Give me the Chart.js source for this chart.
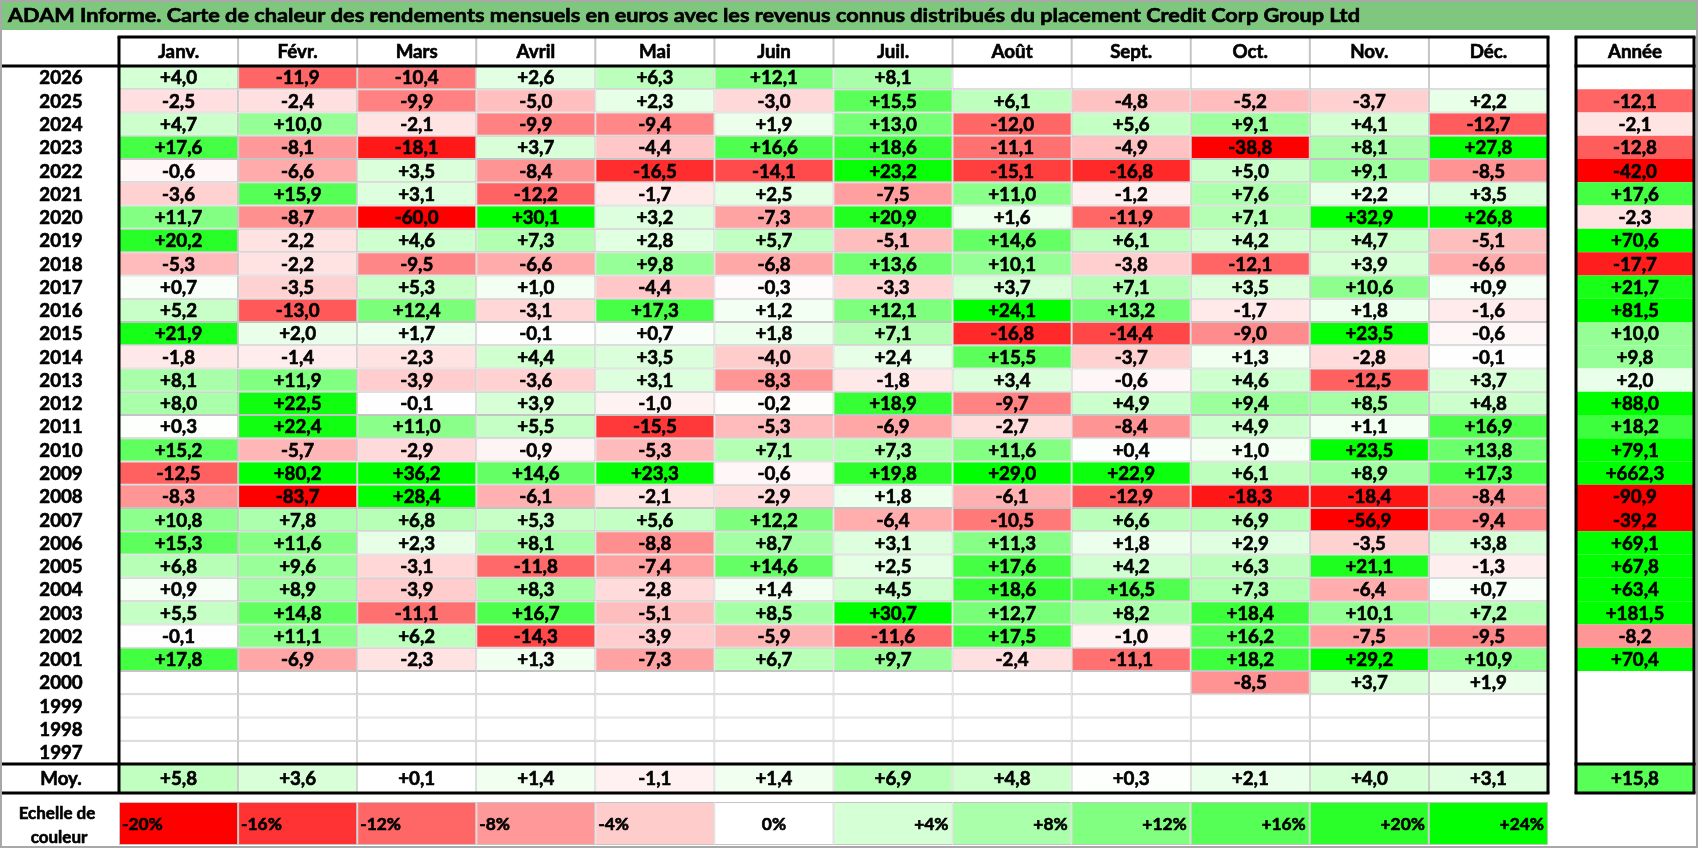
<!DOCTYPE html>
<html lang="fr">
<head>
<meta charset="utf-8">
<title>ADAM Informe - Credit Corp Group Ltd</title>
<script src="https://cdn.jsdelivr.net/npm/chart.js@4.4.1/dist/chart.umd.min.js"></script>
<style>
  html, body { margin: 0; padding: 0; background: #fff; }
  #wrap { position: relative; width: 1698px; height: 848px; overflow: hidden; }
  #wrap canvas { position: absolute; left: 0; top: 0; }
</style>
</head>
<body>
<div id="wrap">
  <canvas id="grid" width="1698" height="848"></canvas>
  <canvas id="avg" width="1698" height="848"></canvas>
  <canvas id="scale" width="1698" height="848"></canvas>
</div>
<script>
'use strict';

//***********Data***********
const title = 'ADAM Informe. Carte de chaleur des rendements mensuels en euros avec les revenus connus distribués du placement Credit Corp Group Ltd';
const months = ['Janv.', 'Févr.', 'Mars', 'Avril', 'Mai', 'Juin', 'Juil.', 'Août', 'Sept.', 'Oct.', 'Nov.', 'Déc.'];
const years = ['2026', '2025', '2024', '2023', '2022', '2021', '2020', '2019', '2018', '2017',
  '2016', '2015', '2014', '2013', '2012', '2011', '2010', '2009', '2008', '2007',
  '2006', '2005', '2004', '2003', '2002', '2001', '2000', '1999', '1998', '1997'];

const r2026 = [4.0, -11.9, -10.4, 2.6, 6.3, 12.1, 8.1, null, null, null, null, null];
const r2025 = [-2.5, -2.4, -9.9, -5.0, 2.3, -3.0, 15.5, 6.1, -4.8, -5.2, -3.7, 2.2];
const r2024 = [4.7, 10.0, -2.1, -9.9, -9.4, 1.9, 13.0, -12.0, 5.6, 9.1, 4.1, -12.7];
const r2023 = [17.6, -8.1, -18.1, 3.7, -4.4, 16.6, 18.6, -11.1, -4.9, -38.8, 8.1, 27.8];
const r2022 = [-0.6, -6.6, 3.5, -8.4, -16.5, -14.1, 23.2, -15.1, -16.8, 5.0, 9.1, -8.5];
const r2021 = [-3.6, 15.9, 3.1, -12.2, -1.7, 2.5, -7.5, 11.0, -1.2, 7.6, 2.2, 3.5];
const r2020 = [11.7, -8.7, -60.0, 30.1, 3.2, -7.3, 20.9, 1.6, -11.9, 7.1, 32.9, 26.8];
const r2019 = [20.2, -2.2, 4.6, 7.3, 2.8, 5.7, -5.1, 14.6, 6.1, 4.2, 4.7, -5.1];
const r2018 = [-5.3, -2.2, -9.5, -6.6, 9.8, -6.8, 13.6, 10.1, -3.8, -12.1, 3.9, -6.6];
const r2017 = [0.7, -3.5, 5.3, 1.0, -4.4, -0.3, -3.3, 3.7, 7.1, 3.5, 10.6, 0.9];
const r2016 = [5.2, -13.0, 12.4, -3.1, 17.3, 1.2, 12.1, 24.1, 13.2, -1.7, 1.8, -1.6];
const r2015 = [21.9, 2.0, 1.7, -0.1, 0.7, 1.8, 7.1, -16.8, -14.4, -9.0, 23.5, -0.6];
const r2014 = [-1.8, -1.4, -2.3, 4.4, 3.5, -4.0, 2.4, 15.5, -3.7, 1.3, -2.8, -0.1];
const r2013 = [8.1, 11.9, -3.9, -3.6, 3.1, -8.3, -1.8, 3.4, -0.6, 4.6, -12.5, 3.7];
const r2012 = [8.0, 22.5, -0.1, 3.9, -1.0, -0.2, 18.9, -9.7, 4.9, 9.4, 8.5, 4.8];
const r2011 = [0.3, 22.4, 11.0, 5.5, -15.5, -5.3, -6.9, -2.7, -8.4, 4.9, 1.1, 16.9];
const r2010 = [15.2, -5.7, -2.9, -0.9, -5.3, 7.1, 7.3, 11.6, 0.4, 1.0, 23.5, 13.8];
const r2009 = [-12.5, 80.2, 36.2, 14.6, 23.3, -0.6, 19.8, 29.0, 22.9, 6.1, 8.9, 17.3];
const r2008 = [-8.3, -83.7, 28.4, -6.1, -2.1, -2.9, 1.8, -6.1, -12.9, -18.3, -18.4, -8.4];
const r2007 = [10.8, 7.8, 6.8, 5.3, 5.6, 12.2, -6.4, -10.5, 6.6, 6.9, -56.9, -9.4];
const r2006 = [15.3, 11.6, 2.3, 8.1, -8.8, 8.7, 3.1, 11.3, 1.8, 2.9, -3.5, 3.8];
const r2005 = [6.8, 9.6, -3.1, -11.8, -7.4, 14.6, 2.5, 17.6, 4.2, 6.3, 21.1, -1.3];
const r2004 = [0.9, 8.9, -3.9, 8.3, -2.8, 1.4, 4.5, 18.6, 16.5, 7.3, -6.4, 0.7];
const r2003 = [5.5, 14.8, -11.1, 16.7, -5.1, 8.5, 30.7, 12.7, 8.2, 18.4, 10.1, 7.2];
const r2002 = [-0.1, 11.1, 6.2, -14.3, -3.9, -5.9, -11.6, 17.5, -1.0, 16.2, -7.5, -9.5];
const r2001 = [17.8, -6.9, -2.3, 1.3, -7.3, 6.7, 9.7, -2.4, -11.1, 18.2, 29.2, 10.9];
const r2000 = [null, null, null, null, null, null, null, null, null, -8.5, 3.7, 1.9];
const r1999 = [null, null, null, null, null, null, null, null, null, null, null, null];
const r1998 = [null, null, null, null, null, null, null, null, null, null, null, null];
const r1997 = [null, null, null, null, null, null, null, null, null, null, null, null];

const yearTotals = [null, -12.1, -2.1, -12.8, -42.0, 17.6, -2.3, 70.6, -17.7, 21.7,
  81.5, 10.0, 9.8, 2.0, 88.0, 18.2, 79.1, 662.3, -90.9, -39.2,
  69.1, 67.8, 63.4, 181.5, -8.2, 70.4, null, null, null, null];
const monthAverages = [5.8, 3.6, 0.1, 1.4, -1.1, 1.4, 6.9, 4.8, 0.3, 2.1, 4.0, 3.1];
const totalAverage = 15.8;
const scaleSteps = [-20, -16, -12, -8, -4, 0, 4, 8, 12, 16, 20, 24];
const scaleLabels = ['-20%', '-16%', '-12%', '-8%', '-4%', '0%', '+4%', '+8%', '+12%', '+16%', '+20%', '+24%'];

const rows = [r2026, r2025, r2024, r2023, r2022, r2021, r2020, r2019, r2018, r2017,
  r2016, r2015, r2014, r2013, r2012, r2011, r2010, r2009, r2008, r2007,
  r2006, r2005, r2004, r2003, r2002, r2001, r2000, r1999, r1998, r1997];

//***********Layout (pixels)***********
const W = 1698, H = 848;
const L = { left: 119, right: 1548, annL: 1576, annR: 1694, headTop: 37, gridTop: 66, gridBot: 764, moyBot: 793, scaleTop: 802, scaleBot: 845, labelX: 61 };
const colW = (L.right - L.left) / 12;
const xMax = (L.annR - L.left) / colW;
const annSpan = [(L.annL - L.left) / colW, xMax];

const FONT = 'bold 18px Lato';
const SMALL = 'bold 17px Lato';
const GRAY = '#c4c4c4';
const TEXT_SX = 1.04;

//***********Helpers***********
function heatColor(v) {
  if (v === null || v === undefined) return '#ffffff';
  if (v < 0) {
    let c = Math.round(255 * (1 - Math.min(-v / 20, 1)));
    return 'rgb(255,' + c + ',' + c + ')';
  }
  let c = Math.round(255 * (1 - Math.min(v / 24, 1)));
  return 'rgb(' + c + ',255,' + c + ')';
}

function fmt(v) {
  return (v < 0 ? '-' : '+') + Math.abs(v).toFixed(1).replace('.', ',');
}

// bold text, a touch heavier than Lato bold to get closer to the original
function text(ctx, s, x, y, align, font, sx) {
  ctx.save();
  ctx.font = font || FONT;
  ctx.fillStyle = '#000';
  ctx.strokeStyle = '#000';
  ctx.lineWidth = 0.6;
  ctx.textAlign = align || 'center';
  ctx.textBaseline = 'middle';
  ctx.translate(x, y);
  ctx.scale(sx || TEXT_SX, 1);
  ctx.fillText(s, 0, 1);
  ctx.strokeText(s, 0, 1);
  ctx.restore();
}

function line(ctx, x0, y0, x1, y1, w, color) {
  ctx.save();
  ctx.strokeStyle = color || '#000';
  ctx.lineWidth = w || 3;
  ctx.beginPath();
  ctx.moveTo(x0, y0);
  ctx.lineTo(x1, y1);
  ctx.stroke();
  ctx.restore();
}

function cellDataset(label, nRows, span, colorFn, bordered) {
  return {
    label: label,
    data: Array.from({ length: nRows }, () => span.slice()),
    backgroundColor: ctx => colorFn(ctx.dataIndex),
    borderColor: GRAY,
    borderWidth: bordered ? 1 : 0,
    borderSkipped: false,
    inflateAmount: 0,
    grouped: false,
    barPercentage: 1,
    categoryPercentage: 1
  };
}

function options(top, bottom) {
  return {
    responsive: false,
    animation: false,
    events: [],
    devicePixelRatio: 1,
    indexAxis: 'y',
    layout: { padding: { left: L.left, right: W - L.annR, top: top, bottom: H - bottom } },
    scales: {
      x: { type: 'linear', min: 0, max: xMax, display: false },
      y: { type: 'category', display: false, offset: true }
    },
    plugins: { legend: { display: false }, tooltip: { enabled: false } }
  };
}

function center(el) {
  return { x: (el.x + el.base) / 2, y: el.y, x0: Math.min(el.x, el.base), x1: Math.max(el.x, el.base) };
}

//***********Main grid***********
const gridSets = months.map((m, c) => cellDataset(m, years.length, [c, c + 1], i => heatColor(rows[i][c]), true));
gridSets.push(cellDataset('Année', years.length, annSpan, i => heatColor(yearTotals[i]), false));

const gridFrame = {
  id: 'gridFrame',
  beforeDraw(chart) {
    const ctx = chart.ctx;
    ctx.save();
    ctx.fillStyle = '#fff';
    ctx.fillRect(0, 0, W, H);
    ctx.fillStyle = '#7fc77f';
    ctx.fillRect(0, 0, W, 30);
    ctx.strokeStyle = '#a8a8a8';
    ctx.lineWidth = 2;
    ctx.strokeRect(1, 1, W - 2, H - 2);
    // title stretched to the reference width
    ctx.font = 'bold 19px Lato';
    let tw = ctx.measureText(title).width;
    ctx.restore();
    text(ctx, title, 8, 15, 'left', 'bold 19px Lato', (1360 - 8) / tw);
  },
  afterDatasetsDraw(chart) {
    const ctx = chart.ctx;
    const xs = chart.scales.x;
    const headY = (L.headTop + L.gridTop) / 2;
    chart.data.datasets.forEach((ds, d) => {
      chart.getDatasetMeta(d).data.forEach((el, i) => {
        let v = d < 12 ? rows[i][d] : yearTotals[i];
        if (v === null) return;
        let p = center(el);
        text(ctx, fmt(v), p.x, p.y);
      });
    });
    // year labels
    chart.getDatasetMeta(0).data.forEach((el, i) => {
      text(ctx, years[i], L.labelX, el.y);
    });
    // header
    for (let c = 0; c < 12; c++) {
      let x0 = xs.getPixelForValue(c);
      let x1 = xs.getPixelForValue(c + 1);
      if (c > 0) line(ctx, x0, L.headTop, x0, L.gridTop, 2, GRAY);
      text(ctx, months[c], (x0 + x1) / 2, headY);
    }
    let a0 = xs.getPixelForValue(annSpan[0]);
    let a1 = xs.getPixelForValue(annSpan[1]);
    text(ctx, 'Année', (a0 + a1) / 2, headY);
    // thick frame
    line(ctx, L.left - 1.5, L.headTop, L.right + 1.5, L.headTop);
    line(ctx, 2, L.gridTop, L.right + 1.5, L.gridTop);
    line(ctx, L.left, L.headTop, L.left, L.gridBot);
    line(ctx, L.right, L.headTop, L.right, L.gridBot);
    line(ctx, a0 - 1.5, L.headTop, a1 + 1.5, L.headTop);
    line(ctx, a0 - 1.5, L.gridTop, a1 + 1.5, L.gridTop);
    line(ctx, a0, L.headTop, a0, L.gridBot);
    line(ctx, a1, L.headTop, a1, L.gridBot);
  }
};

new Chart(document.getElementById('grid'), {
  type: 'bar',
  data: { labels: years, datasets: gridSets },
  options: options(L.gridTop, L.gridBot),
  plugins: [gridFrame]
});

//***********Average row***********
const avgSets = months.map((m, c) => cellDataset(m, 1, [c, c + 1], () => heatColor(monthAverages[c]), true));
avgSets.push(cellDataset('Année', 1, annSpan, () => heatColor(totalAverage), false));

const avgFrame = {
  id: 'avgFrame',
  afterDatasetsDraw(chart) {
    const ctx = chart.ctx;
    const xs = chart.scales.x;
    chart.data.datasets.forEach((ds, d) => {
      let el = chart.getDatasetMeta(d).data[0];
      let v = d < 12 ? monthAverages[d] : totalAverage;
      let p = center(el);
      text(ctx, fmt(v), p.x, p.y);
    });
    let y = chart.getDatasetMeta(0).data[0].y;
    text(ctx, 'Moy.', L.labelX, y);
    let a0 = xs.getPixelForValue(annSpan[0]);
    let a1 = xs.getPixelForValue(annSpan[1]);
    line(ctx, 2, L.gridBot, L.right + 1.5, L.gridBot);
    line(ctx, 2, L.moyBot, L.right + 1.5, L.moyBot);
    line(ctx, L.left, L.gridBot, L.left, L.moyBot);
    line(ctx, L.right, L.gridBot, L.right, L.moyBot);
    line(ctx, a0 - 1.5, L.gridBot, a1 + 1.5, L.gridBot);
    line(ctx, a0 - 1.5, L.moyBot, a1 + 1.5, L.moyBot);
    line(ctx, a0, L.gridBot, a0, L.moyBot);
    line(ctx, a1, L.gridBot, a1, L.moyBot);
  }
};

new Chart(document.getElementById('avg'), {
  type: 'bar',
  data: { labels: ['Moy.'], datasets: avgSets },
  options: options(L.gridBot, L.moyBot),
  plugins: [avgFrame]
});

//***********Colour scale row***********
const scaleSets = scaleSteps.map((s, c) => cellDataset(scaleLabels[c], 1, [c, c + 1], () => heatColor(s), true));

const scaleFrame = {
  id: 'scaleFrame',
  afterDatasetsDraw(chart) {
    const ctx = chart.ctx;
    chart.data.datasets.forEach((ds, d) => {
      let p = center(chart.getDatasetMeta(d).data[0]);
      let s = scaleSteps[d];
      if (s < 0) text(ctx, scaleLabels[d], p.x0 + 3, p.y, 'left', SMALL, 1.02);
      else if (s === 0) text(ctx, scaleLabels[d], p.x, p.y, 'center', SMALL, 1.02);
      else text(ctx, scaleLabels[d], p.x1 - 4, p.y, 'right', SMALL, 1.02);
    });
    text(ctx, 'Echelle de', 57, 813, 'center', SMALL, 1.0);
    text(ctx, 'couleur', 59, 837, 'center', SMALL, 1.0);
  }
};

new Chart(document.getElementById('scale'), {
  type: 'bar',
  data: { labels: ['Echelle'], datasets: scaleSets },
  options: options(L.scaleTop, L.scaleBot),
  plugins: [scaleFrame]
});
</script>
</body>
</html>
